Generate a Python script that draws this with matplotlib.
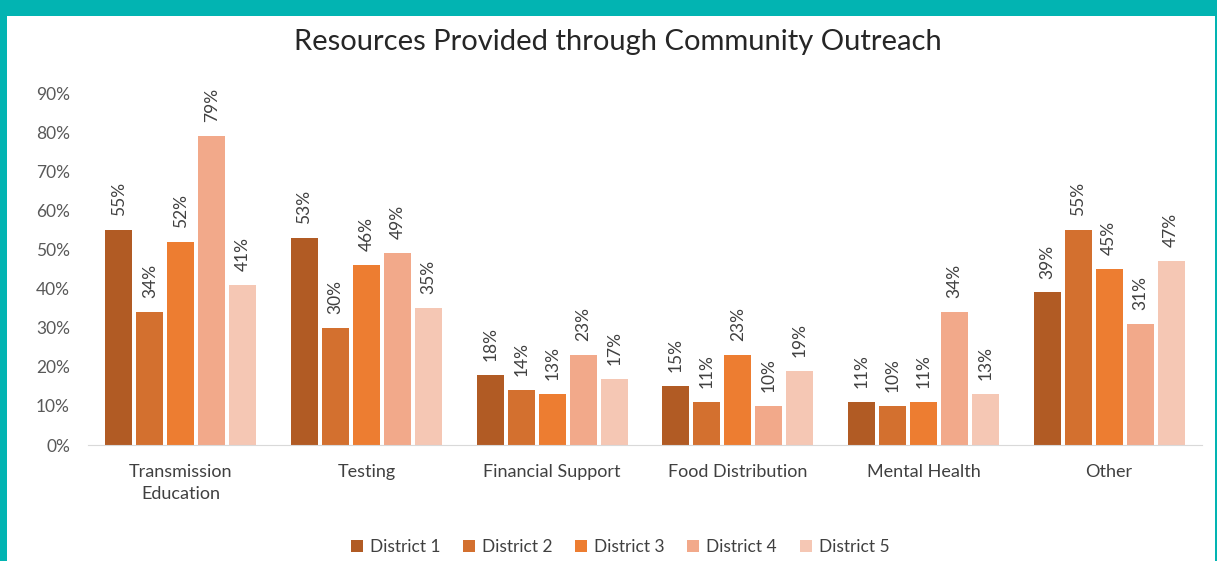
import matplotlib
import matplotlib.pyplot as plt
import numpy as np
from matplotlib.patches import Rectangle
from matplotlib.ticker import PercentFormatter

matplotlib.use("Agg")
plt.rcParams["font.family"] = ["Lato", "DejaVu Sans"]

categories = ["Transmission\nEducation", "Testing", "Financial Support",
              "Food Distribution", "Mental Health", "Other"]
districts = ["District 1", "District 2", "District 3", "District 4", "District 5"]
district_1 = [55, 53, 18, 15, 11, 39]
district_2 = [34, 30, 14, 11, 10, 55]
district_3 = [52, 46, 13, 23, 11, 45]
district_4 = [79, 49, 23, 10, 34, 31]
district_5 = [41, 35, 17, 19, 13, 47]
series = [district_1, district_2, district_3, district_4, district_5]
colors = ["#B15B24", "#D3702F", "#ED7D31", "#F2A98A", "#F5C7B4"]

fig = plt.figure(figsize=(12.17, 5.61), dpi=100, facecolor="#02B4B2")
# white card inside the teal frame
fig.patches.append(Rectangle((7 / 1217, 0), 1208 / 1217, 545 / 561,
                             transform=fig.transFigure, facecolor="white",
                             edgecolor="none", zorder=-5))

ax = fig.add_axes([88 / 1217, 116 / 561, 1114 / 1217, 352 / 561])
ax.set_facecolor("white")

x = np.arange(len(categories))
pitch = 0.167
width = 0.145
for i, (vals, name, col) in enumerate(zip(series, districts, colors)):
    xs = x + (i - 2) * pitch
    ax.bar(xs, vals, width=width, color=col, label=name, zorder=2)
    for xi, v in zip(xs, vals):
        ax.annotate(f"{v}%", (xi, v), xytext=(0, 10), textcoords="offset points",
                    rotation=90, ha="center", va="bottom",
                    fontsize=12.5, color="#404040")

ax.set_xlim(-0.5, len(categories) - 0.5)
ax.set_ylim(0, 90)
ax.set_yticks(range(0, 91, 10))
ax.yaxis.set_major_formatter(PercentFormatter(decimals=0))
ax.set_xticks(x)
ax.set_xticklabels(categories, fontsize=13, color="#404040", linespacing=1.45)
ax.tick_params(axis="y", labelsize=12.5, labelcolor="#595959", length=0, pad=13)
ax.tick_params(axis="x", length=0, pad=14)
for side in ["top", "right", "left"]:
    ax.spines[side].set_visible(False)
ax.spines["bottom"].set_color("#D9D9D9")

fig.text(618 / 1217, 1 - 42 / 561, "Resources Provided through Community Outreach",
         ha="center", va="center", fontsize=21, color="#262626")

fig.legend(loc="center", bbox_to_anchor=(620 / 1217, 1 - 547 / 561), ncol=5,
           frameon=False, fontsize=12.5, handlelength=0.7, handleheight=0.7,
           handletextpad=0.4, columnspacing=1.3, labelcolor="#404040")

fig.savefig("out.png", dpi=100, facecolor=fig.get_facecolor())
